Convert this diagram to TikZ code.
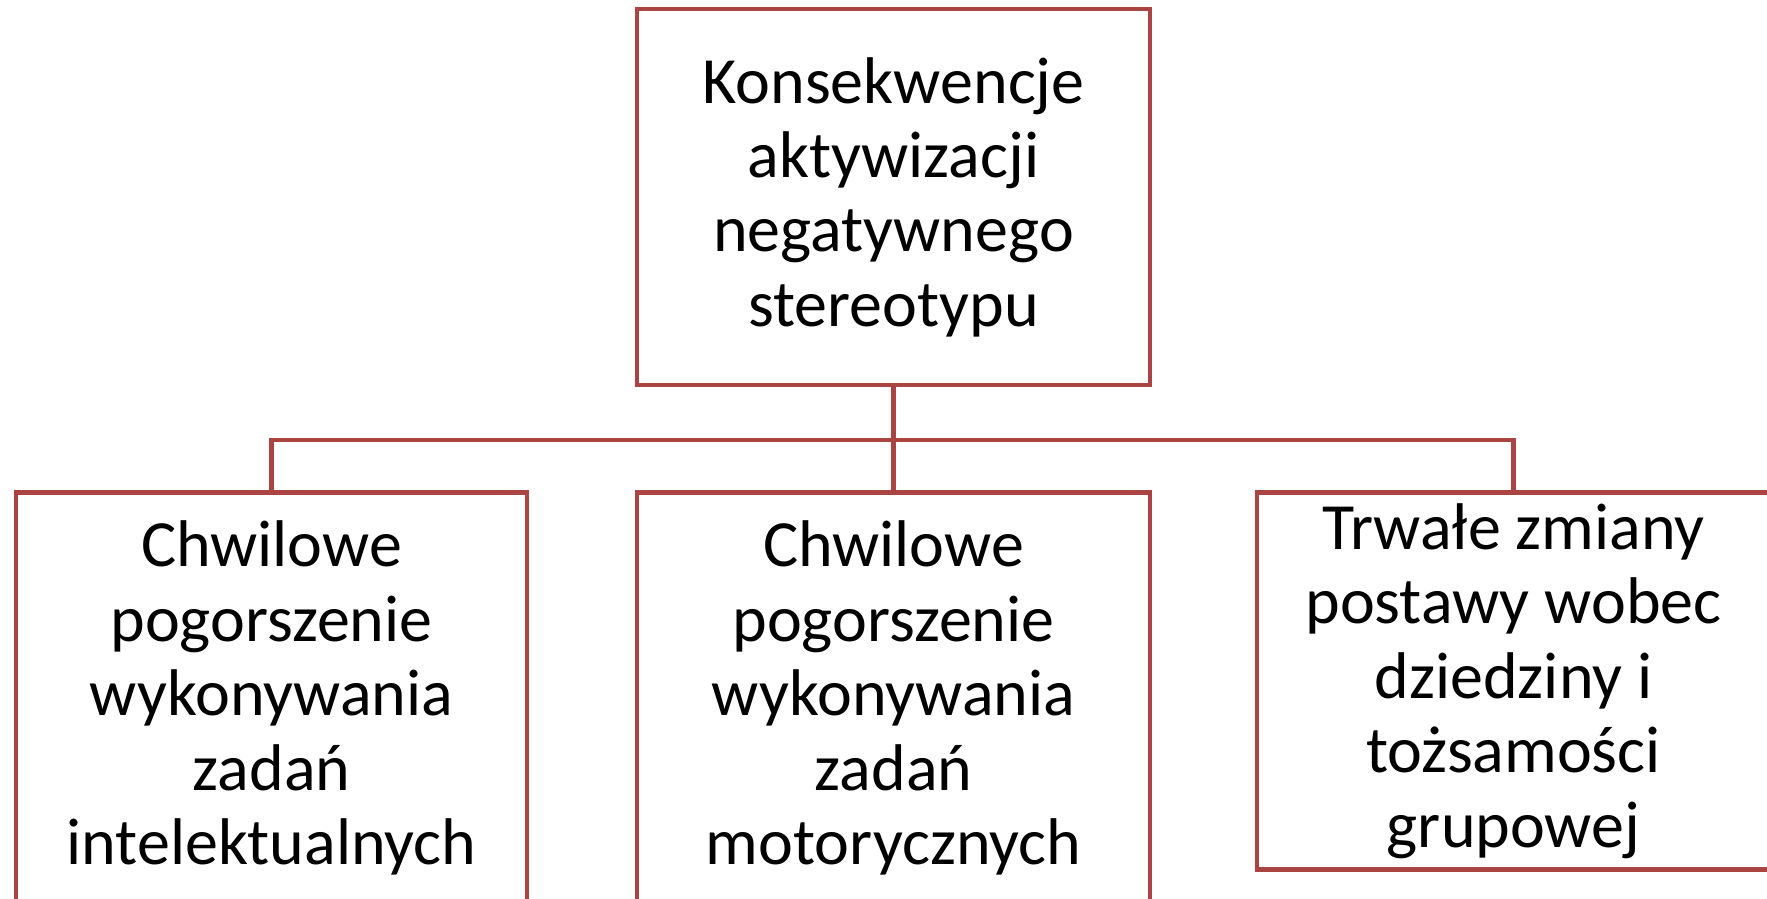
\documentclass[tikz,border=0pt]{standalone}
\usepackage{fontspec}
\setmainfont{Carlito}
\definecolor{boxred}{RGB}{169,68,66}
\begin{document}
\begin{tikzpicture}[x=1pt,y=-1pt,
  box/.style={draw=boxred, line width=4.5pt, rectangle, outer sep=0pt, inner sep=0pt,
    align=center, font=\fontsize{66}{74.4}\selectfont, minimum width=513pt},
  conn/.style={draw=boxred, line width=4.5pt}]
\useasboundingbox (0,0) rectangle (1767,898);
\node[box, minimum height=376pt] (top) at (893.5,197) {Konsekwencje\\aktywizacji\\negatywnego\\stereotypu};
\node[box, minimum width=511pt, minimum height=411pt] (left) at (271.5,698) {Chwilowe\\pogorszenie\\wykonywania\\zadań\\intelektualnych};
\node[box, minimum height=411pt] (mid) at (893.5,698) {Chwilowe\\pogorszenie\\wykonywania\\zadań\\motorycznych};
\node[box, minimum height=377pt] (right) at (1513.5,681) {Trwałe zmiany\\postawy wobec\\dziedziny i\\tożsamości\\grupowej};
\coordinate (j) at (893.5,440);
\draw[conn] (top.south) -- (mid.north);
\draw[conn] (left.north) |- (j) -| (right.north);
\end{tikzpicture}
\end{document}
